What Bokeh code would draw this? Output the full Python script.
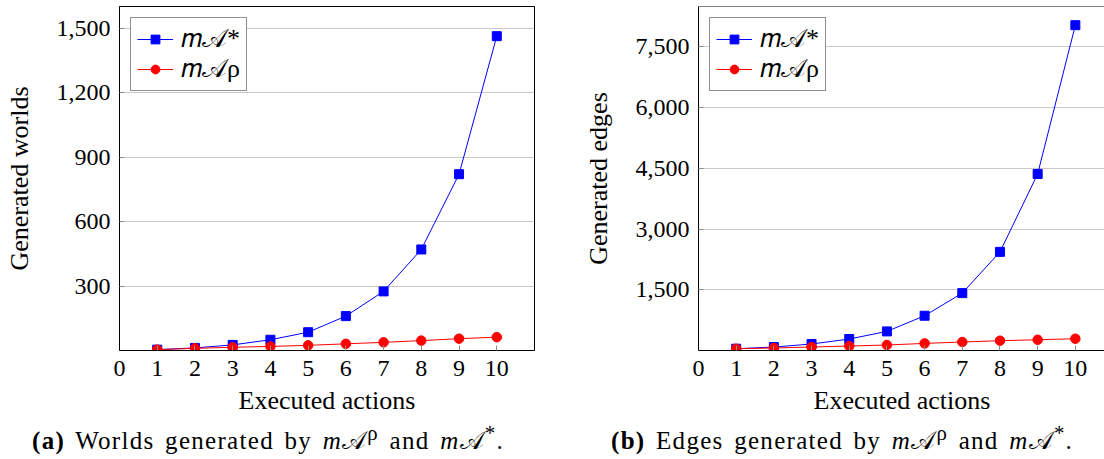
from bokeh.plotting import figure
from bokeh.models import (FixedTicker, NumeralTickFormatter, Range1d, Span, Div,
                          Legend, LegendItem)
from bokeh.layouts import row, column
from bokeh.embed import file_html
from bokeh.resources import INLINE

# ---------------- data ----------------
actions = [1, 2, 3, 4, 5, 6, 7, 8, 9, 10]
worlds_star = [4, 12, 26, 50, 85, 160, 275, 470, 820, 1462]
worlds_rho = [4, 10, 15, 19, 24, 31, 38, 46, 55, 62]
edges_star = [44, 86, 160, 284, 472, 859, 1418, 2437, 4362, 8038]
edges_rho = [44, 62, 86, 111, 136, 175, 210, 242, 266, 291]

x_ticks = [0, 1, 2, 3, 4, 5, 6, 7, 8, 9, 10]
worlds_ticks = [300, 600, 900, 1200, 1500]
edges_ticks = [1500, 3000, 4500, 6000, 7500]

series_labels = ["\U0001D45A\U0001D49C*", "\U0001D45A\U0001D49C\u03C1"]
x_label = "Executed actions"
worlds_label = "Generated worlds"
edges_label = "Generated edges"
caption_a = ("<b>(a)</b> Worlds generated by <i>m</i>\U0001D49C<sup>\u03C1</sup> "
             "and <i>m</i>\U0001D49C<sup>*</sup>.")
caption_b = ("<b>(b)</b> Edges generated by <i>m</i>\U0001D49C<sup>\u03C1</sup> "
             "and <i>m</i>\U0001D49C<sup>*</sup>.")

FONT = "Liberation Serif"


def make_fig(star, rho, ylabel, yticks, y_end, x_end, frame_w, bl, br,
             label_standoff, boxed):
    p = figure(frame_width=frame_w, frame_height=344,
               x_range=Range1d(0, x_end), y_range=Range1d(0, y_end),
               output_backend="svg", toolbar_location=None,
               min_border_left=bl, min_border_right=br,
               min_border_top=6, min_border_bottom=86)
    p.background_fill_color = "white"
    p.border_fill_color = "white"
    p.outline_line_color = "black" if boxed else None
    p.outline_line_width = 1

    p.xgrid.visible = False
    p.ygrid.grid_line_color = "#c8c8c8"
    p.ygrid.grid_line_width = 1.2

    p.xaxis.ticker = FixedTicker(ticks=x_ticks)
    p.yaxis.ticker = FixedTicker(ticks=yticks)
    p.yaxis.formatter = NumeralTickFormatter(format="0,0")

    for ax in (p.xaxis[0], p.yaxis[0]):
        ax.axis_line_color = "black"
        ax.axis_line_width = 1
        ax.major_tick_in = 5
        ax.major_tick_out = 0
        ax.major_tick_line_color = "#8c8c8c"
        ax.minor_tick_line_color = None
        ax.major_label_text_font = FONT
        ax.major_label_text_font_size = "24px"
        ax.major_label_text_color = "black"
        ax.axis_label_text_font = FONT
        ax.axis_label_text_font_size = "26px"
        ax.axis_label_text_font_style = "normal"
        ax.axis_label_text_color = "black"

    p.xaxis.axis_label = x_label
    p.yaxis.axis_label = ylabel
    p.xaxis.major_label_standoff = 10
    p.xaxis.axis_label_standoff = 7
    p.yaxis.major_label_standoff = 9
    p.yaxis.axis_label_standoff = label_standoff

    r1 = p.line(actions, star, line_color="blue", line_width=1)
    s1 = p.scatter(actions, star, marker="square", size=9,
                   fill_color="blue", line_color="blue")
    r2 = p.line(actions, rho, line_color="red", line_width=1)
    s2 = p.scatter(actions, rho, marker="circle", size=9.5,
                   fill_color="red", line_color="red")

    legend = Legend(items=[LegendItem(label=series_labels[0], renderers=[r1, s1]),
                           LegendItem(label=series_labels[1], renderers=[r2, s2])],
                    location="top_left")
    legend.margin = 11
    legend.padding = 6
    legend.spacing = 0
    legend.glyph_width = 36
    legend.glyph_height = 22
    legend.label_height = 28
    legend.label_width = 50
    legend.label_standoff = 8
    legend.label_text_font = FONT
    legend.label_text_font_size = "26px"
    legend.label_text_color = "black"
    legend.border_line_color = "#222222"
    legend.border_line_width = 1
    legend.background_fill_color = "white"
    legend.background_fill_alpha = 1.0
    p.add_layout(legend)

    if not boxed:
        p.add_layout(Span(location=y_end, dimension="width",
                          line_color="black", line_width=1))
    return p


p1 = make_fig(worlds_star, worlds_rho, worlds_label, worlds_ticks,
              1600, 11.0, 415, 119, 46, 20, True)
p2 = make_fig(edges_star, edges_rho, edges_label, edges_ticks,
              8500, 10.8, 407, 117, 0, 20, False)


def caption(html, width, pad_left):
    style = ("font-family:'Liberation Serif';font-size:25px;line-height:8px;"
             "letter-spacing:1.3px;word-spacing:3px;white-space:nowrap;"
             "position:relative;top:-7px;"
             f"padding-left:{pad_left}px;color:black;")
    return Div(text=f'<div style="{style}">{html}</div>',
               width=width, height=20, margin=0)


d1 = caption(caption_a, 580, 32)
d2 = caption(caption_b, 524, 31)

layout = row(column(p1, d1, spacing=0), column(p2, d2, spacing=0), spacing=0)

open("out.html", "w").write(file_html(layout, INLINE))
